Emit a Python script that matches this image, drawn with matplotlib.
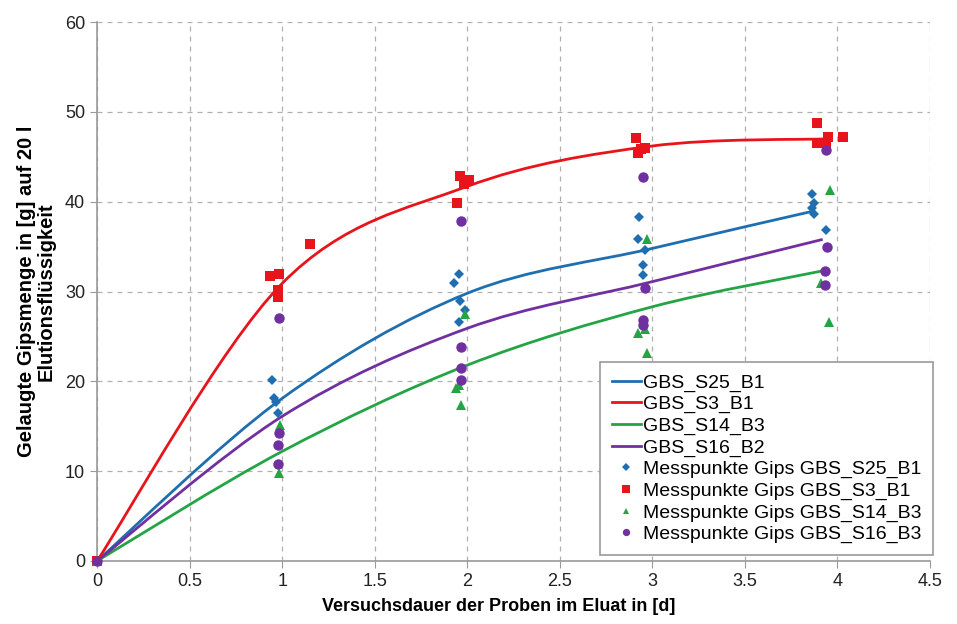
import matplotlib
matplotlib.use("Agg")
import matplotlib.pyplot as plt
from matplotlib.path import Path
from matplotlib.patches import PathPatch
from matplotlib.lines import Line2D

plt.rcParams['font.family'] = ['Liberation Sans', 'DejaVu Sans']

# Kurven (Stuetzpunkte der geglaetteten Linien)
curve_names = ["GBS_S25_B1", "GBS_S3_B1", "GBS_S14_B3", "GBS_S16_B2"]
s25_cx = [0, 1, 2, 3, 3.88]
s25_cy = [0, 18.1, 29.8, 34.8, 39.0]
s3_cx = [0, 1, 2, 3, 3.96]
s3_cy = [0, 30.9, 41.7, 46.2, 47.0]
s14_cx = [0, 1, 2, 3, 3.92]
s14_cy = [0, 12.2, 21.8, 28.3, 32.3]
s16_cx = [0, 1, 2, 3, 3.92]
s16_cy = [0, 16.1, 25.9, 31.1, 35.8]

# Messpunkte
s25_px = [0, 0.943, 0.955, 0.968, 0.975, 1.955, 1.93, 1.96, 1.955, 1.99,
          2.93, 2.925, 2.96, 2.95, 2.95, 3.86, 3.875, 3.865, 3.875, 3.94]
s25_py = [0, 20.2, 18.1, 17.7, 16.5, 32.0, 31.0, 28.9, 26.6, 27.9,
          38.3, 35.8, 34.6, 33.0, 31.8, 40.8, 39.9, 39.3, 38.6, 36.8]
s3_px = [0, 0.934, 0.985, 0.98, 0.975, 0.98, 1.15, 1.96, 2.01, 1.98, 1.945,
         2.91, 2.96, 2.92, 2.94, 3.89, 3.89, 3.95, 3.94, 4.03]
s3_py = [0, 31.7, 32.0, 30.2, 29.6, 29.4, 35.3, 42.9, 42.4, 42.0, 39.8,
         47.1, 46.0, 45.4, 45.9, 48.8, 46.5, 47.2, 46.5, 47.2]
s14_px = [0, 0.99, 0.985, 1.99, 1.94, 1.955, 1.965, 2.97, 2.92, 2.96, 2.97,
          3.96, 3.91, 3.955]
s14_py = [0, 15.1, 9.8, 27.5, 19.3, 19.6, 17.4, 35.8, 25.4, 25.8, 23.2,
          41.3, 31.0, 26.6]
s16_px = [0, 0.985, 0.985, 0.98, 0.98, 1.965, 1.965, 1.965, 1.965,
          2.95, 2.96, 2.95, 2.95, 3.94, 3.945, 3.93, 3.935]
s16_py = [0, 27.0, 14.2, 12.9, 10.8, 37.8, 23.8, 21.5, 20.1,
          42.7, 30.4, 26.8, 26.3, 45.8, 35.0, 32.3, 30.7]

point_names = ["Messpunkte Gips GBS_S25_B1", "Messpunkte Gips GBS_S3_B1",
               "Messpunkte Gips GBS_S14_B3", "Messpunkte Gips GBS_S16_B3"]

c_blue = "#1f6fb0"
c_red = "#e8141b"
c_green = "#24a445"
c_purple = "#7030a0"


def smooth_path(xs, ys):
    # Bezier-Kurve durch die Stuetzpunkte (wie "geglaettete Linie")
    pts = list(zip(xs, ys))
    n = len(pts)
    verts = [pts[0]]
    codes = [Path.MOVETO]
    for i in range(n - 1):
        p0 = pts[max(i - 1, 0)]
        p1 = pts[i]
        p2 = pts[i + 1]
        p3 = pts[min(i + 2, n - 1)]
        c1 = (p1[0] + (p2[0] - p0[0]) / 6, p1[1] + (p2[1] - p0[1]) / 6)
        c2 = (p2[0] - (p3[0] - p1[0]) / 6, p2[1] - (p3[1] - p1[1]) / 6)
        verts += [c1, c2, p2]
        codes += [Path.CURVE4] * 3
    return Path(verts, codes)


fig = plt.figure(figsize=(9.57, 6.24), dpi=100)
ax = fig.add_axes([0.1014, 0.101, 0.8704, 0.8637])

curves = [(s25_cx, s25_cy, c_blue), (s3_cx, s3_cy, c_red),
          (s14_cx, s14_cy, c_green), (s16_cx, s16_cy, c_purple)]
handles = []
for (cx, cy, col), name in zip(curves, curve_names):
    ax.add_patch(PathPatch(smooth_path(cx, cy), fill=False, edgecolor=col,
                           lw=2.0, zorder=3))
    handles.append(Line2D([], [], color=col, lw=2.0, label=name))

pts = [(s25_px, s25_py, c_blue, "D", 5.5), (s3_px, s3_py, c_red, "s", 7.5),
       (s14_px, s14_py, c_green, "^", 6.5), (s16_px, s16_py, c_purple, "o", 7.5)]
for (px, py, col, m, ms), name in zip(pts, point_names):
    h, = ax.plot(px, py, ls="none", marker=m, ms=ms, color=col,
                 markeredgewidth=0, label=name, zorder=4, clip_on=False)
    handles.append(h)

ax.set_xlim(0, 4.5)
ax.set_ylim(0, 60)
ax.set_xticks([0, 0.5, 1, 1.5, 2, 2.5, 3, 3.5, 4, 4.5])
ax.set_xticklabels(["0", "0.5", "1", "1.5", "2", "2.5", "3", "3.5", "4", "4.5"])
ax.set_yticks(range(0, 61, 10))

ax.grid(True, ls=(0, (4, 4)), color="#b0b0b0", lw=0.9)
ax.set_axisbelow(True)
for s in ["top", "right"]:
    ax.spines[s].set_visible(False)
for s in ["left", "bottom"]:
    ax.spines[s].set_color("#999999")
    ax.spines[s].set_linewidth(1.2)
ax.tick_params(direction="out", length=5, color="#999999", labelsize=13,
               labelcolor="#222222")

ax.set_xlabel("Versuchsdauer der Proben im Eluat in [d]", fontsize=13,
              fontweight="bold", labelpad=6)
ax.xaxis.set_label_coords(0.482, -0.068)
ax.set_ylabel("Gelaugte Gipsmenge in [g] auf 20 l\nElutionsflüssigkeit",
              fontsize=14.5, fontweight="bold", labelpad=7, linespacing=1.05)

leg = ax.legend(handles=handles, loc="lower right",
                bbox_to_anchor=(1.004, 0.011), fontsize=14, fancybox=False,
                framealpha=1, edgecolor="#999999", handlelength=1.5,
                handletextpad=0.12, labelspacing=0.2, borderpad=0.6,
                borderaxespad=0, markerscale=0.7)
leg.get_frame().set_linewidth(1.2)

fig.savefig("out.png", dpi=100)
